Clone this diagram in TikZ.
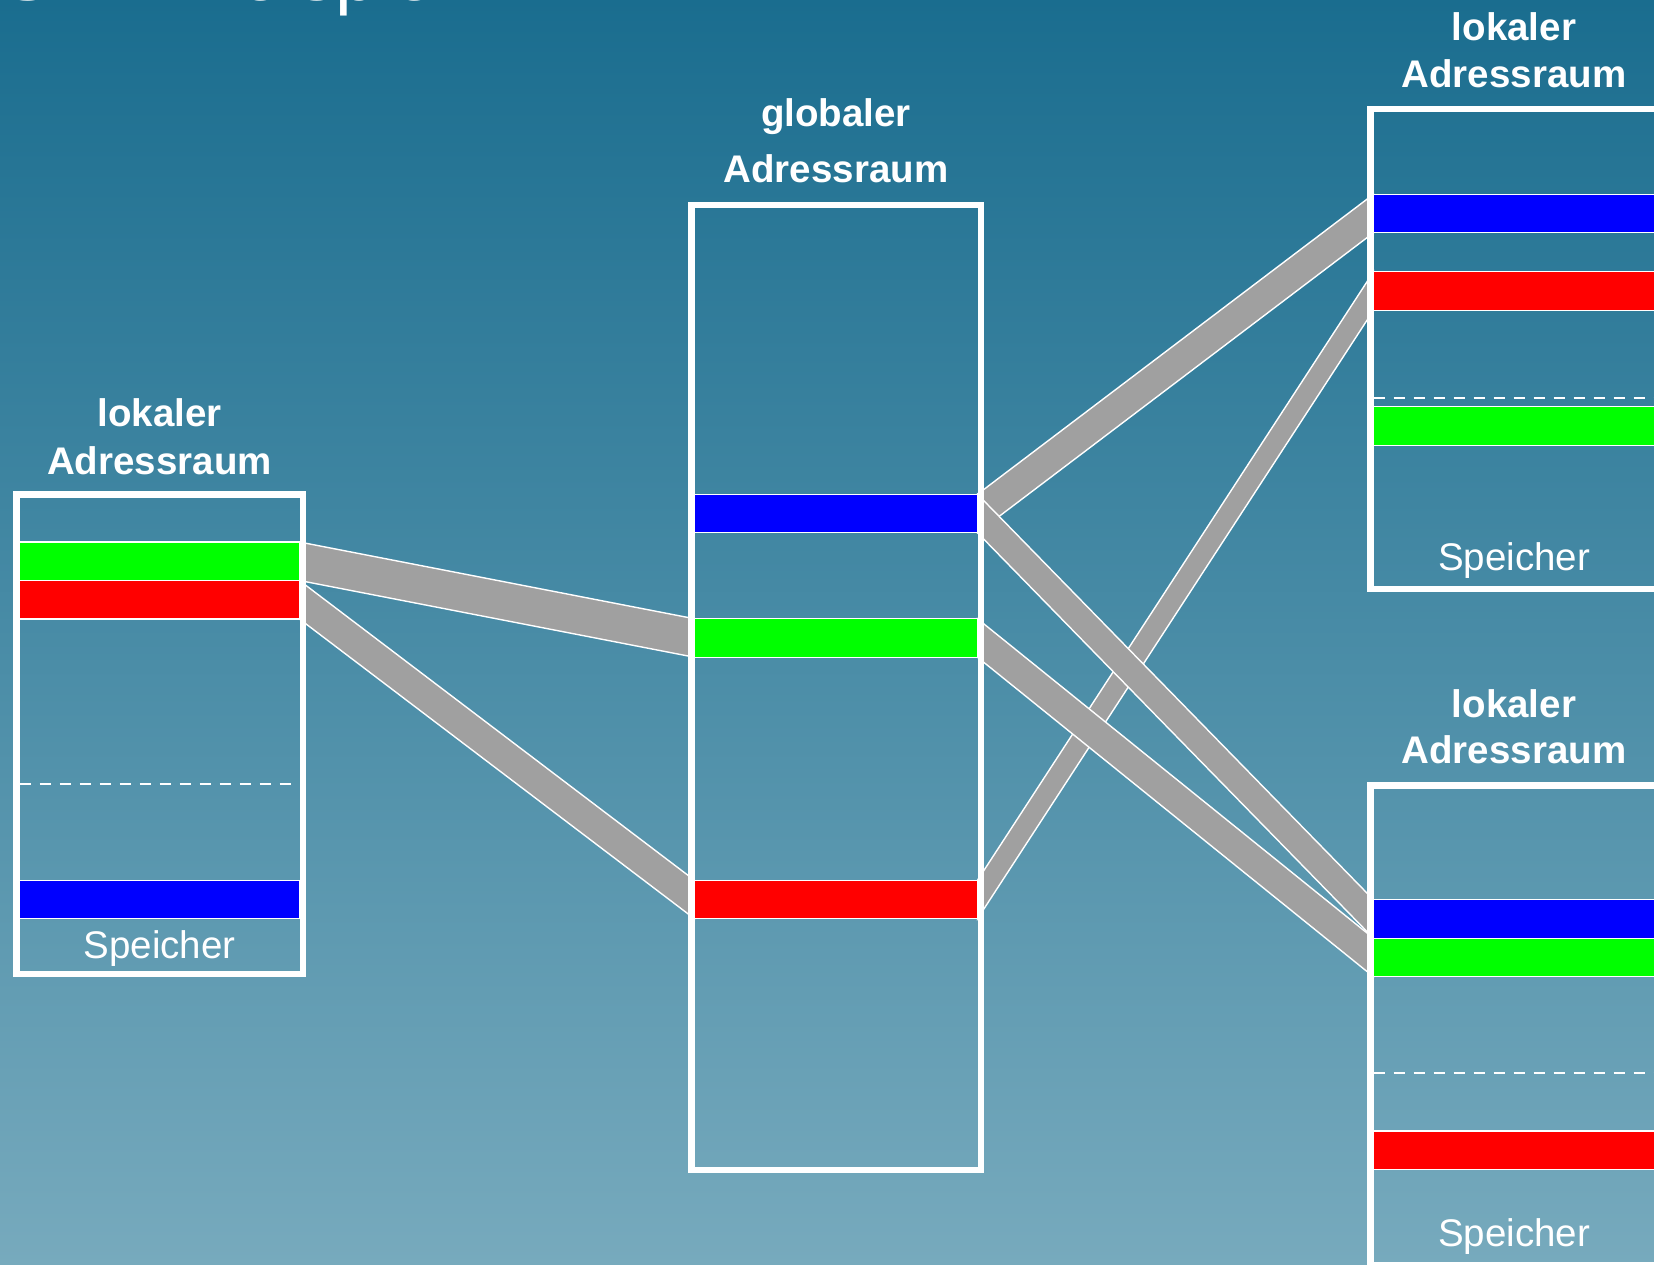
\documentclass[tikz,border=0pt]{standalone}
\usepackage{fontspec}
\setmainfont{Liberation Sans}
\pgfdeclarelayer{back}
\pgfsetlayers{back,main}
\definecolor{bgtop}{HTML}{1A6D8F}
\definecolor{bgbot}{HTML}{77AABD}
\definecolor{linkgray}{HTML}{A0A0A0}
\definecolor{memblue}{HTML}{0000FF}
\definecolor{memgreen}{HTML}{00FF00}
\definecolor{memred}{HTML}{FF0000}
\begin{document}
\begin{tikzpicture}[x=1pt,y=-1pt,
  frame/.style={rectangle, draw=white, line width=6.5pt, inner sep=0pt, outer sep=0pt},
  band/.style={rectangle, draw=white, line width=1.2pt, minimum height=38.5pt, inner sep=0pt, outer sep=0pt},
  link/.style={fill=linkgray, draw=white, line width=1.4pt, line join=miter},
  ttl/.style={font=\fontsize{38.5}{46}\selectfont\bfseries, text=white, anchor=base, inner sep=0pt},
  mem/.style={font=\fontsize{38.5}{46}\selectfont, text=white, anchor=base, inner sep=0pt},
  sep/.style={draw=white, line width=1.4pt, dash pattern=on 11pt off 9pt}]
\path[use as bounding box] (0,0) rectangle (1654,1265);
\clip (0,0) rectangle (1654,1265);
\begin{pgfonlayer}{back}
\fill[top color=bgtop, bottom color=bgbot] (0,0) rectangle (1654,1265);
\end{pgfonlayer}

% slide title (cut off at the top edge, as in the original)
\node[anchor=base west, text=white, inner sep=0pt, font=\fontsize{75}{90}\selectfont] (title) at (2,0.8) {SVM-Beispiel};

% frames
\node[frame, minimum width=286.5pt, minimum height=479.5pt] (L) at (159.5,734) {};
\node[frame, minimum width=289.5pt, minimum height=964.5pt] (C) at (836,687.5) {};
\node[frame, minimum width=289.5pt, minimum height=479.5pt] (TR) at (1515,349) {};
\node[frame, minimum width=289.5pt, minimum height=479.5pt] (BR) at (1515,1025) {};

% titles
\node[ttl] (Lt1) at (159.5,426) {lokaler};
\node[ttl] (Lt2) at (159.5,474) {Adressraum};
\node[ttl] (Ct1) at (836,127) {globaler};
\node[ttl] (Ct2) at (836,183) {Adressraum};
\node[ttl] (TRt1) at (1514,41) {lokaler};
\node[ttl] (TRt2) at (1514,88) {Adressraum};
\node[ttl] (BRt1) at (1514,717) {lokaler};
\node[ttl] (BRt2) at (1514,763) {Adressraum};

% Speicher labels
\node[mem] (Ls) at (159.5,958) {Speicher};
\node[mem] (TRs) at (1514,570) {Speicher};
\node[mem] (BRs) at (1514,1246) {Speicher};

% dashed separators
\draw[sep] (19.5,784) -- (299.5,784);
\draw[sep] (1373.5,398) -- (1656.5,398);
\draw[sep] (1373.5,1073) -- (1656.5,1073);

% memory bands
\node[band, fill=memgreen, minimum width=280pt] (Lg) at (159.5,561.25) {};
\node[band, fill=memred,   minimum width=280pt] (Lr) at (159.5,599.75) {};
\node[band, fill=memblue,  minimum width=280pt] (Lb) at (159.5,899.5) {};

\node[band, fill=memblue,  minimum width=283pt] (Cb) at (836,513.5) {};
\node[band, fill=memgreen, minimum width=283pt] (Cg) at (836,638) {};
\node[band, fill=memred,   minimum width=283pt] (Cr) at (836,899.5) {};

\node[band, fill=memblue,  minimum width=283pt] (TRb) at (1515,213.5) {};
\node[band, fill=memred,   minimum width=283pt] (TRr) at (1515,291) {};
\node[band, fill=memgreen, minimum width=283pt] (TRg) at (1515,426) {};

\node[band, fill=memblue,  minimum width=283pt] (BRb) at (1515,919) {};
\node[band, fill=memgreen, minimum width=283pt] (BRg) at (1515,957.5) {};
\node[band, fill=memred,   minimum width=283pt] (BRr) at (1515,1150.25) {};

% gray mapping connectors
\begin{pgfonlayer}{back}
\path[link] (Lg.north east) -- (Cg.north west) -- (Cg.south west) -- (Lg.south east) -- cycle;
\path[link] (Lr.north east) -- (Cr.north west) -- (Cr.south west) -- (Lr.south east) -- cycle;
\path[link] (Cb.north east) -- (TRb.north west) -- (TRb.south west) -- (Cb.south east) -- cycle;
\path[link] (Cr.north east) -- (TRr.north west) -- (TRr.south west) -- (Cr.south east) -- cycle;
\path[link] (Cb.north east) -- (BRb.north west) -- (BRb.south west) -- (Cb.south east) -- cycle;
\path[link] (Cg.north east) -- (BRg.north west) -- (BRg.south west) -- (Cg.south east) -- cycle;
\end{pgfonlayer}
\end{tikzpicture}
\end{document}
